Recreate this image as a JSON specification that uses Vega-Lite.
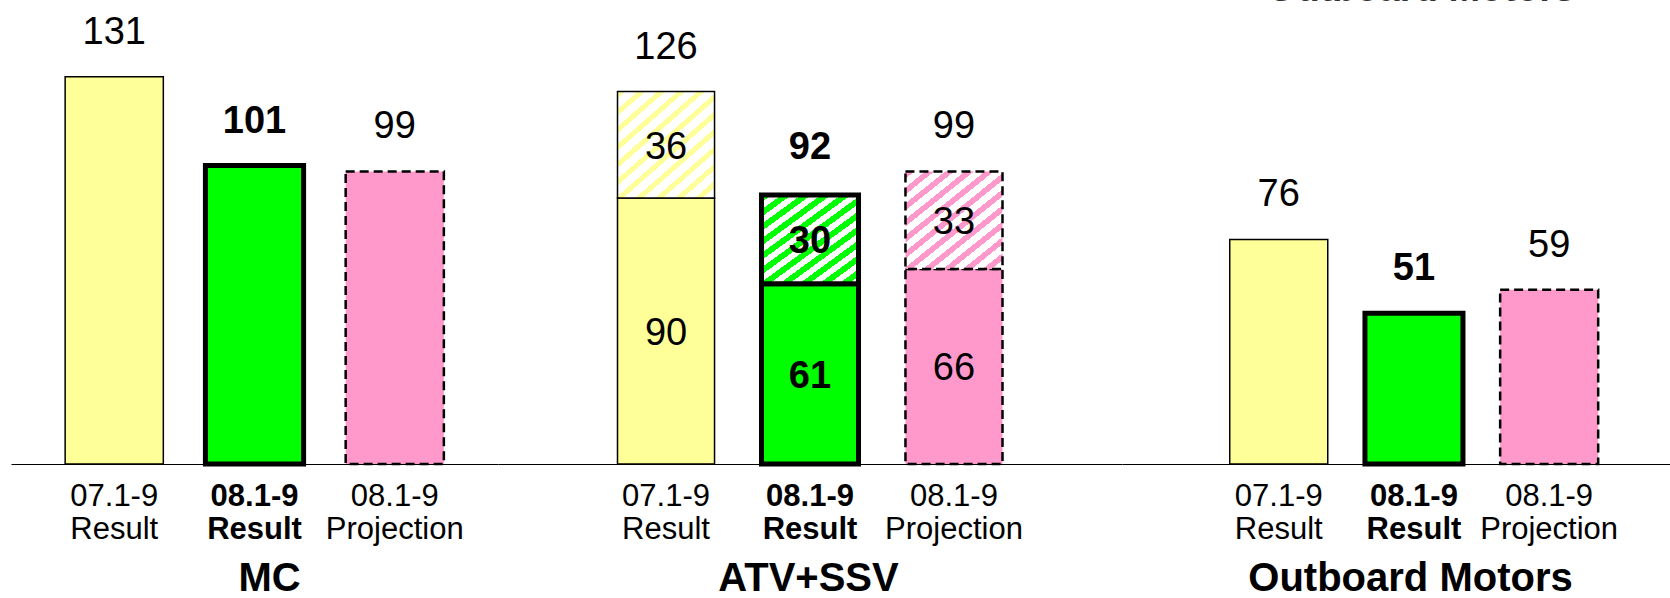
{
  "$schema": "https://vega.github.io/schema/vega-lite/v6.json",
  "padding": {"left": 11, "top": 0, "right": 0, "bottom": 0},
  "spacing": 0,
  "bounds": "flush",
  "config": {
    "view": {"stroke": null},
    "font": "Liberation Sans",
    "axisX": {
      "domainColor": "#000000", "domainWidth": 1, "ticks": false, "tickSize": 0, "grid": false,
      "labelAngle": 0, "labelFontSize": 31, "labelColor": "#000000", "labelLineHeight": 33,
      "labelPadding": 17, "labelBaseline": "top", "labelLimit": 0, "labelOverlap": false,
      "labelExpr": "split(datum.value, '|')",
      "titleFontSize": 40, "titleFontWeight": "bold", "titleColor": "#000000",
      "titleY": 126, "titleBaseline": "alphabetic", "titleAlign": "center"
    }
  },
  "data": {"values": [
    {"group": "MC", "bar": "07.1-9|Result", "part": "MC", "value": 131, "total": 131},
    {"group": "MC", "bar": "08.1-9|Result", "part": "MC", "value": 101, "total": 101},
    {"group": "MC", "bar": "08.1-9|Projection", "part": "MC", "value": 99, "total": 99},
    {"group": "ATV+SSV", "bar": "07.1-9|Result", "part": "ATV", "value": 90, "total": 126},
    {"group": "ATV+SSV", "bar": "07.1-9|Result", "part": "SSV", "value": 36, "total": null},
    {"group": "ATV+SSV", "bar": "08.1-9|Result", "part": "ATV", "value": 61, "total": 92},
    {"group": "ATV+SSV", "bar": "08.1-9|Result", "part": "SSV", "value": 30, "total": null},
    {"group": "ATV+SSV", "bar": "08.1-9|Projection", "part": "ATV", "value": 66, "total": 99},
    {"group": "ATV+SSV", "bar": "08.1-9|Projection", "part": "SSV", "value": 33, "total": null},
    {"group": "Outboard Motors", "bar": "07.1-9|Result", "part": "OB", "value": 76, "total": 76},
    {"group": "Outboard Motors", "bar": "08.1-9|Result", "part": "OB", "value": 51, "total": 51},
    {"group": "Outboard Motors", "bar": "08.1-9|Projection", "part": "OB", "value": 59, "total": 59}
  ]},
  "hconcat": [
    {
      "width": 487, "height": 464,
      "transform": [
        {"filter": "datum.group == 'MC'"},
        {"stack": "value", "groupby": ["group", "bar"], "sort": [{"field": "part", "order": "ascending"}], "as": ["v0", "v1"]}
      ],
      "encoding": {
        "x": {"field": "bar", "type": "nominal",
          "scale": {"domain": ["07.1-9|Result", "08.1-9|Result", "08.1-9|Projection"], "paddingInner": 0.3, "paddingOuter": 0.386},
          "axis": {"title": "MC", "titleX": 258,
            "labelFontWeight": {"condition": {"test": "datum.value === '08.1-9|Result'", "value": "bold"}, "value": "normal"}}}
      },
      "layer": [
        {"transform": [{"filter": "datum.part != 'SSV'"}],
         "mark": {"type": "bar", "stroke": "#000000"},
         "encoding": {
           "y": {"field": "v1", "type": "quantitative", "scale": {"domain": [0, 157]}, "axis": null},
           "y2": {"field": "v0"},
           "fill": {"condition": [{"test": "datum.bar == '07.1-9|Result'", "value": "#FFFF99"}, {"test": "datum.bar == '08.1-9|Result'", "value": "#00FF00"}], "value": "#FF99CC"},
           "strokeWidth": {"condition": [{"test": "datum.bar == '07.1-9|Result'", "value": 1.5}, {"test": "datum.bar == '08.1-9|Result'", "value": 5}], "value": 2.5},
           "strokeDash": {"condition": {"test": "datum.bar == '08.1-9|Projection'", "value": [9, 5]}, "value": [1, 0]}
         }},
        {"transform": [{"filter": "datum.part != 'SSV' && datum.bar != '08.1-9|Result'"}],
         "mark": {"type": "text", "fontSize": 38, "baseline": "alphabetic", "dy": -33},
         "encoding": {"y": {"field": "total", "type": "quantitative", "scale": {"domain": [0, 157]}, "axis": null}, "text": {"field": "total"}}},
        {"transform": [{"filter": "datum.part != 'SSV' && datum.bar == '08.1-9|Result'"}],
         "mark": {"type": "text", "fontSize": 38, "fontWeight": "bold", "baseline": "alphabetic", "dy": -33},
         "encoding": {"y": {"field": "total", "type": "quantitative", "scale": {"domain": [0, 157]}, "axis": null}, "text": {"field": "total"}}}
      ]
    },
    {
      "width": 624, "height": 464,
      "transform": [
        {"filter": "datum.group == 'ATV+SSV'"},
        {"stack": "value", "groupby": ["group", "bar"], "sort": [{"field": "part", "order": "ascending"}], "as": ["v0", "v1"]},
        {"calculate": "(datum.v0 + datum.v1) / 2", "as": "mid"}
      ],
      "encoding": {
        "x": {"field": "bar", "type": "nominal",
          "scale": {"domain": ["07.1-9|Result", "08.1-9|Result", "08.1-9|Projection"], "paddingInner": 0.326, "paddingOuter": 0.83},
          "axis": {"title": "ATV+SSV", "titleX": 310,
            "labelFontWeight": {"condition": {"test": "datum.value === '08.1-9|Result'", "value": "bold"}, "value": "normal"}}}
      },
      "layer": [
        {"transform": [{"filter": "datum.part != 'SSV'"}],
         "mark": {"type": "bar", "stroke": "#000000"},
         "encoding": {
           "y": {"field": "v1", "type": "quantitative", "scale": {"domain": [0, 157]}, "axis": null},
           "y2": {"field": "v0"},
           "fill": {"condition": [{"test": "datum.bar == '07.1-9|Result'", "value": "#FFFF99"}, {"test": "datum.bar == '08.1-9|Result'", "value": "#00FF00"}], "value": "#FF99CC"},
           "strokeWidth": {"condition": [{"test": "datum.bar == '07.1-9|Result'", "value": 1.5}, {"test": "datum.bar == '08.1-9|Result'", "value": 5}], "value": 2.5},
           "strokeDash": {"condition": {"test": "datum.bar == '08.1-9|Projection'", "value": [9, 5]}, "value": [1, 0]}
         }},
        {"transform": [{"filter": "datum.part == 'SSV' && datum.bar == '07.1-9|Result'"}],
         "mark": {"type": "bar", "stroke": "#000000", "strokeWidth": 1.5,
           "fill": {"gradient": "linear", "x1": 0, "y1": 0, "x2": 0.878, "y2": 1.098, "stops": [
             {"offset": 0, "color": "#FFFF99"}, {"offset": 0.0364, "color": "#FFFF99"}, {"offset": 0.0364, "color": "#FFFFFF"}, {"offset": 0.0909, "color": "#FFFFFF"},
             {"offset": 0.0909, "color": "#FFFF99"}, {"offset": 0.1273, "color": "#FFFF99"}, {"offset": 0.1273, "color": "#FFFFFF"}, {"offset": 0.1818, "color": "#FFFFFF"},
             {"offset": 0.1818, "color": "#FFFF99"}, {"offset": 0.2182, "color": "#FFFF99"}, {"offset": 0.2182, "color": "#FFFFFF"}, {"offset": 0.2727, "color": "#FFFFFF"},
             {"offset": 0.2727, "color": "#FFFF99"}, {"offset": 0.3091, "color": "#FFFF99"}, {"offset": 0.3091, "color": "#FFFFFF"}, {"offset": 0.3636, "color": "#FFFFFF"},
             {"offset": 0.3636, "color": "#FFFF99"}, {"offset": 0.4, "color": "#FFFF99"}, {"offset": 0.4, "color": "#FFFFFF"}, {"offset": 0.4545, "color": "#FFFFFF"},
             {"offset": 0.4545, "color": "#FFFF99"}, {"offset": 0.4909, "color": "#FFFF99"}, {"offset": 0.4909, "color": "#FFFFFF"}, {"offset": 0.5455, "color": "#FFFFFF"},
             {"offset": 0.5455, "color": "#FFFF99"}, {"offset": 0.5818, "color": "#FFFF99"}, {"offset": 0.5818, "color": "#FFFFFF"}, {"offset": 0.6364, "color": "#FFFFFF"},
             {"offset": 0.6364, "color": "#FFFF99"}, {"offset": 0.6727, "color": "#FFFF99"}, {"offset": 0.6727, "color": "#FFFFFF"}, {"offset": 0.7273, "color": "#FFFFFF"},
             {"offset": 0.7273, "color": "#FFFF99"}, {"offset": 0.7636, "color": "#FFFF99"}, {"offset": 0.7636, "color": "#FFFFFF"}, {"offset": 0.8182, "color": "#FFFFFF"},
             {"offset": 0.8182, "color": "#FFFF99"}, {"offset": 0.8545, "color": "#FFFF99"}, {"offset": 0.8545, "color": "#FFFFFF"}, {"offset": 0.9091, "color": "#FFFFFF"},
             {"offset": 0.9091, "color": "#FFFF99"}, {"offset": 0.9455, "color": "#FFFF99"}, {"offset": 0.9455, "color": "#FFFFFF"}, {"offset": 1, "color": "#FFFFFF"}
           ]}},
         "encoding": {"y": {"field": "v1", "type": "quantitative", "scale": {"domain": [0, 157]}, "axis": null}, "y2": {"field": "v0"}}},
        {"transform": [{"filter": "datum.part == 'SSV' && datum.bar == '08.1-9|Result'"}],
         "mark": {"type": "bar", "stroke": "#000000", "strokeWidth": 5,
           "fill": {"gradient": "linear", "x1": 0, "y1": 0, "x2": 0.878, "y2": 1.098, "stops": [
             {"offset": 0, "color": "#00FF00"}, {"offset": 0.0455, "color": "#00FF00"}, {"offset": 0.0455, "color": "#FFFFFF"}, {"offset": 0.0909, "color": "#FFFFFF"},
             {"offset": 0.0909, "color": "#00FF00"}, {"offset": 0.1364, "color": "#00FF00"}, {"offset": 0.1364, "color": "#FFFFFF"}, {"offset": 0.1818, "color": "#FFFFFF"},
             {"offset": 0.1818, "color": "#00FF00"}, {"offset": 0.2273, "color": "#00FF00"}, {"offset": 0.2273, "color": "#FFFFFF"}, {"offset": 0.2727, "color": "#FFFFFF"},
             {"offset": 0.2727, "color": "#00FF00"}, {"offset": 0.3182, "color": "#00FF00"}, {"offset": 0.3182, "color": "#FFFFFF"}, {"offset": 0.3636, "color": "#FFFFFF"},
             {"offset": 0.3636, "color": "#00FF00"}, {"offset": 0.4091, "color": "#00FF00"}, {"offset": 0.4091, "color": "#FFFFFF"}, {"offset": 0.4545, "color": "#FFFFFF"},
             {"offset": 0.4545, "color": "#00FF00"}, {"offset": 0.5, "color": "#00FF00"}, {"offset": 0.5, "color": "#FFFFFF"}, {"offset": 0.5455, "color": "#FFFFFF"},
             {"offset": 0.5455, "color": "#00FF00"}, {"offset": 0.5909, "color": "#00FF00"}, {"offset": 0.5909, "color": "#FFFFFF"}, {"offset": 0.6364, "color": "#FFFFFF"},
             {"offset": 0.6364, "color": "#00FF00"}, {"offset": 0.6818, "color": "#00FF00"}, {"offset": 0.6818, "color": "#FFFFFF"}, {"offset": 0.7273, "color": "#FFFFFF"},
             {"offset": 0.7273, "color": "#00FF00"}, {"offset": 0.7727, "color": "#00FF00"}, {"offset": 0.7727, "color": "#FFFFFF"}, {"offset": 0.8182, "color": "#FFFFFF"},
             {"offset": 0.8182, "color": "#00FF00"}, {"offset": 0.8636, "color": "#00FF00"}, {"offset": 0.8636, "color": "#FFFFFF"}, {"offset": 0.9091, "color": "#FFFFFF"},
             {"offset": 0.9091, "color": "#00FF00"}, {"offset": 0.9545, "color": "#00FF00"}, {"offset": 0.9545, "color": "#FFFFFF"}, {"offset": 1, "color": "#FFFFFF"}
           ]}},
         "encoding": {"y": {"field": "v1", "type": "quantitative", "scale": {"domain": [0, 157]}, "axis": null}, "y2": {"field": "v0"}}},
        {"transform": [{"filter": "datum.part == 'SSV' && datum.bar == '08.1-9|Projection'"}],
         "mark": {"type": "bar", "stroke": "#000000", "strokeWidth": 2.5, "strokeDash": [9, 5],
           "fill": {"gradient": "linear", "x1": 0, "y1": 0, "x2": 0.878, "y2": 1.098, "stops": [
             {"offset": 0, "color": "#FF99CC"}, {"offset": 0.0409, "color": "#FF99CC"}, {"offset": 0.0409, "color": "#FFFFFF"}, {"offset": 0.0909, "color": "#FFFFFF"},
             {"offset": 0.0909, "color": "#FF99CC"}, {"offset": 0.1318, "color": "#FF99CC"}, {"offset": 0.1318, "color": "#FFFFFF"}, {"offset": 0.1818, "color": "#FFFFFF"},
             {"offset": 0.1818, "color": "#FF99CC"}, {"offset": 0.2227, "color": "#FF99CC"}, {"offset": 0.2227, "color": "#FFFFFF"}, {"offset": 0.2727, "color": "#FFFFFF"},
             {"offset": 0.2727, "color": "#FF99CC"}, {"offset": 0.3136, "color": "#FF99CC"}, {"offset": 0.3136, "color": "#FFFFFF"}, {"offset": 0.3636, "color": "#FFFFFF"},
             {"offset": 0.3636, "color": "#FF99CC"}, {"offset": 0.4045, "color": "#FF99CC"}, {"offset": 0.4045, "color": "#FFFFFF"}, {"offset": 0.4545, "color": "#FFFFFF"},
             {"offset": 0.4545, "color": "#FF99CC"}, {"offset": 0.4955, "color": "#FF99CC"}, {"offset": 0.4955, "color": "#FFFFFF"}, {"offset": 0.5455, "color": "#FFFFFF"},
             {"offset": 0.5455, "color": "#FF99CC"}, {"offset": 0.5864, "color": "#FF99CC"}, {"offset": 0.5864, "color": "#FFFFFF"}, {"offset": 0.6364, "color": "#FFFFFF"},
             {"offset": 0.6364, "color": "#FF99CC"}, {"offset": 0.6773, "color": "#FF99CC"}, {"offset": 0.6773, "color": "#FFFFFF"}, {"offset": 0.7273, "color": "#FFFFFF"},
             {"offset": 0.7273, "color": "#FF99CC"}, {"offset": 0.7682, "color": "#FF99CC"}, {"offset": 0.7682, "color": "#FFFFFF"}, {"offset": 0.8182, "color": "#FFFFFF"},
             {"offset": 0.8182, "color": "#FF99CC"}, {"offset": 0.8591, "color": "#FF99CC"}, {"offset": 0.8591, "color": "#FFFFFF"}, {"offset": 0.9091, "color": "#FFFFFF"},
             {"offset": 0.9091, "color": "#FF99CC"}, {"offset": 0.95, "color": "#FF99CC"}, {"offset": 0.95, "color": "#FFFFFF"}, {"offset": 1, "color": "#FFFFFF"}
           ]}},
         "encoding": {"y": {"field": "v1", "type": "quantitative", "scale": {"domain": [0, 157]}, "axis": null}, "y2": {"field": "v0"}}},
        {"transform": [{"filter": "datum.part != 'SSV' && datum.bar != '08.1-9|Result'"}],
         "mark": {"type": "text", "fontSize": 38, "baseline": "alphabetic", "dy": -33},
         "encoding": {"y": {"field": "total", "type": "quantitative", "scale": {"domain": [0, 157]}, "axis": null}, "text": {"field": "total"}}},
        {"transform": [{"filter": "datum.part != 'SSV' && datum.bar == '08.1-9|Result'"}],
         "mark": {"type": "text", "fontSize": 38, "fontWeight": "bold", "baseline": "alphabetic", "dy": -33},
         "encoding": {"y": {"field": "total", "type": "quantitative", "scale": {"domain": [0, 157]}, "axis": null}, "text": {"field": "total"}}},
        {"transform": [{"filter": "datum.bar != '08.1-9|Result'"}],
         "mark": {"type": "text", "fontSize": 38, "baseline": "middle", "dy": 3},
         "encoding": {"y": {"field": "mid", "type": "quantitative", "scale": {"domain": [0, 157]}, "axis": null}, "text": {"field": "value"}}},
        {"transform": [{"filter": "datum.bar == '08.1-9|Result'"}],
         "mark": {"type": "text", "fontSize": 38, "fontWeight": "bold", "baseline": "middle", "dy": 3},
         "encoding": {"y": {"field": "mid", "type": "quantitative", "scale": {"domain": [0, 157]}, "axis": null}, "text": {"field": "value"}}}
      ]
    },
    {
      "width": 548, "height": 464,
      "transform": [
        {"filter": "datum.group == 'Outboard Motors'"},
        {"stack": "value", "groupby": ["group", "bar"], "sort": [{"field": "part", "order": "ascending"}], "as": ["v0", "v1"]}
      ],
      "encoding": {
        "x": {"field": "bar", "type": "nominal",
          "scale": {"domain": ["07.1-9|Result", "08.1-9|Result", "08.1-9|Projection"], "paddingInner": 0.275, "paddingOuter": 0.664, "align": 0.6},
          "axis": {"title": "Outboard Motors", "titleX": 288,
            "labelFontWeight": {"condition": {"test": "datum.value === '08.1-9|Result'", "value": "bold"}, "value": "normal"}}}
      },
      "layer": [
        {"transform": [{"filter": "datum.part != 'SSV'"}],
         "mark": {"type": "bar", "stroke": "#000000"},
         "encoding": {
           "y": {"field": "v1", "type": "quantitative", "scale": {"domain": [0, 157]}, "axis": null},
           "y2": {"field": "v0"},
           "fill": {"condition": [{"test": "datum.bar == '07.1-9|Result'", "value": "#FFFF99"}, {"test": "datum.bar == '08.1-9|Result'", "value": "#00FF00"}], "value": "#FF99CC"},
           "strokeWidth": {"condition": [{"test": "datum.bar == '07.1-9|Result'", "value": 1.5}, {"test": "datum.bar == '08.1-9|Result'", "value": 5}], "value": 2.5},
           "strokeDash": {"condition": {"test": "datum.bar == '08.1-9|Projection'", "value": [9, 5]}, "value": [1, 0]}
         }},
        {"transform": [{"filter": "datum.part != 'SSV' && datum.bar != '08.1-9|Result'"}],
         "mark": {"type": "text", "fontSize": 38, "baseline": "alphabetic", "dy": -33},
         "encoding": {"y": {"field": "total", "type": "quantitative", "scale": {"domain": [0, 157]}, "axis": null}, "text": {"field": "total"}}},
        {"transform": [{"filter": "datum.part != 'SSV' && datum.bar == '08.1-9|Result'"}],
         "mark": {"type": "text", "fontSize": 38, "fontWeight": "bold", "baseline": "alphabetic", "dy": -33},
         "encoding": {"y": {"field": "total", "type": "quantitative", "scale": {"domain": [0, 157]}, "axis": null}, "text": {"field": "total"}}},
        {"transform": [{"filter": "datum.bar == '08.1-9|Result'"}],
         "mark": {"type": "text", "text": "Outboard Motors", "fontSize": 38, "fontWeight": "bold", "color": "#333333", "baseline": "alphabetic", "dy": 1, "dx": 7, "clip": true},
         "encoding": {"y": {"datum": 157, "type": "quantitative", "scale": {"domain": [0, 157]}, "axis": null}}}
      ]
    }
  ]
}
